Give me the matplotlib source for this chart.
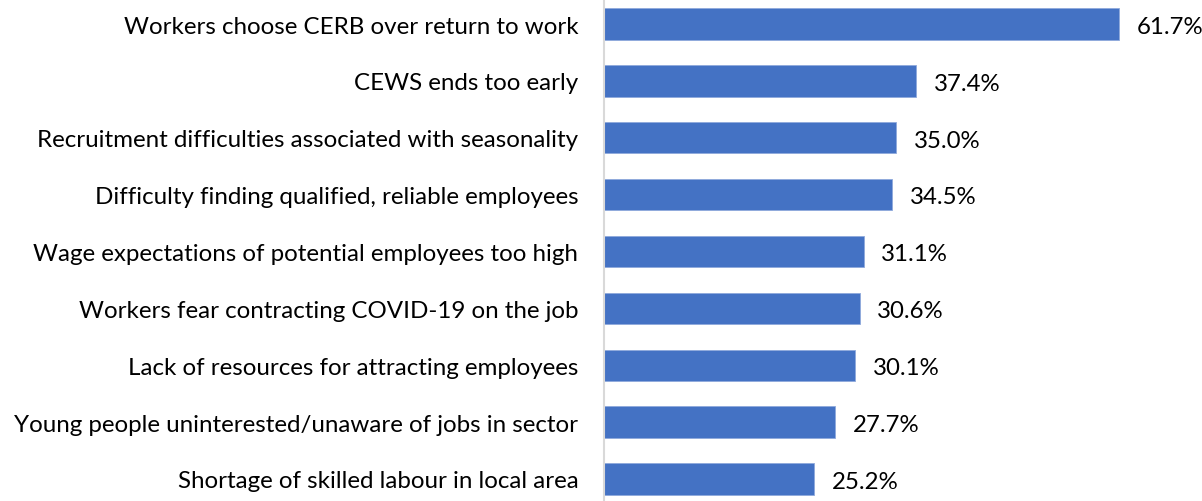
import matplotlib
matplotlib.use("Agg")
import matplotlib.pyplot as plt

# survey reasons, top to bottom
reasons = [
    "Workers choose CERB over return to work",
    "CEWS ends too early",
    "Recruitment difficulties associated with seasonality",
    "Difficulty finding qualified, reliable employees",
    "Wage expectations of potential employees too high",
    "Workers fear contracting COVID-19 on the job",
    "Lack of resources for attracting employees",
    "Young people uninterested/unaware of jobs in sector",
    "Shortage of skilled labour in local area",
]
shares = [61.7, 37.4, 35.0, 34.5, 31.1, 30.6, 30.1, 27.7, 25.2]

plt.rcParams["font.family"] = ["Lato", "DejaVu Sans"]

fig = plt.figure(figsize=(12.02, 5.02), dpi=100)
ax = fig.add_axes([0.5025, 0.0, 0.4975, 1.0])

pos = list(range(len(reasons)))
ax.barh(pos, shares, height=0.55, color="#4472C4", edgecolor="#8fa9dc", linewidth=0.6)

for y, v in zip(pos, shares):
    ax.text(v + 2.1, y + 0.04, f"{v:.1f}%", va="center", ha="left", fontsize=17.3, color="#000000")

ax.set_xlim(0, 71.6)
ax.set_ylim(8.387, -0.44)
ax.set_yticks(pos)
ax.set_yticklabels(reasons, fontsize=17.4, color="#000000")
ax.tick_params(axis="y", length=0, pad=18.5)
ax.set_xticks([])

for side in ["top", "right", "bottom"]:
    ax.spines[side].set_visible(False)
ax.spines["left"].set_color("#d9d9d9")
ax.spines["left"].set_linewidth(1.5)

fig.savefig("out.png", dpi=100)
